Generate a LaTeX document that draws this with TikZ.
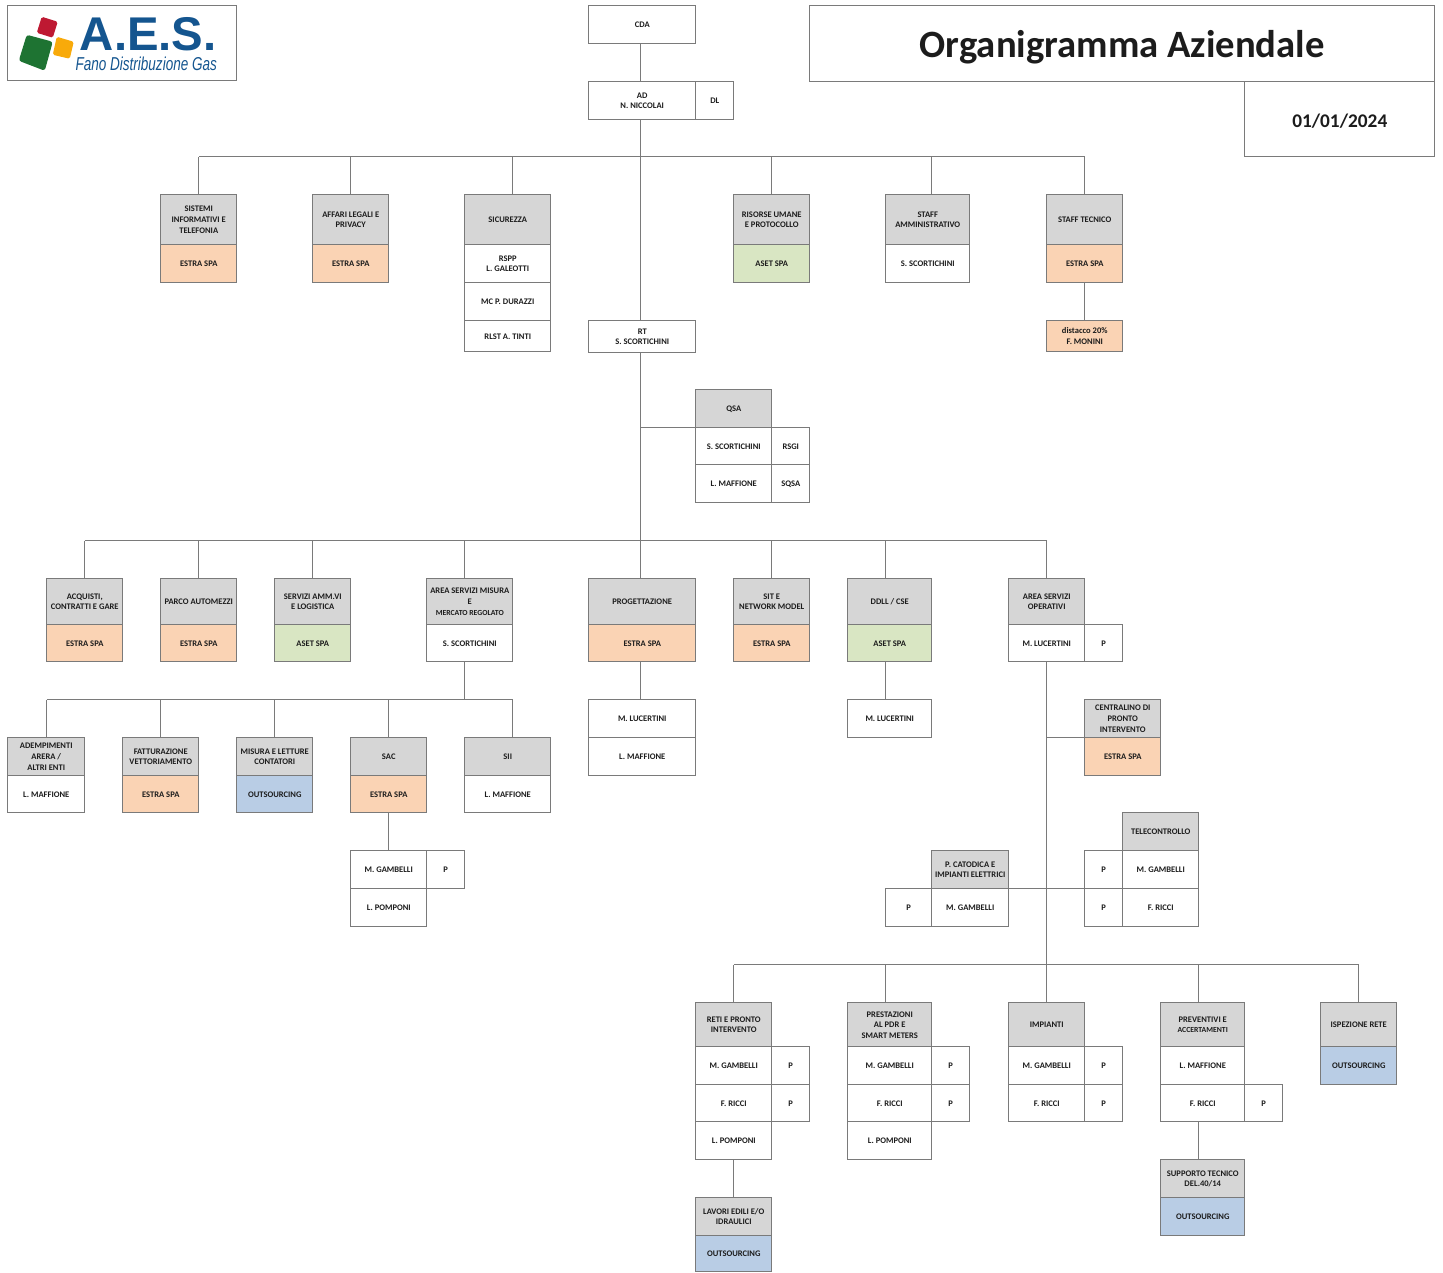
\documentclass[tikz,border=0pt]{standalone}
\usepackage{fontspec}
\setmainfont{Carlito}
\newfontfamily\logofont{Liberation Sans}
\definecolor{hd}{HTML}{D6D6D6}
\definecolor{oc}{HTML}{FAD3B4}
\definecolor{gc}{HTML}{D9E6C3}
\definecolor{bc}{HTML}{B9CDE5}
\definecolor{ln}{HTML}{7A7A7A}
\definecolor{tx}{HTML}{1C1C1C}
\definecolor{aesblue}{HTML}{14558F}
\definecolor{aesred}{HTML}{BE1932}
\definecolor{aesgreen}{HTML}{1E7332}
\definecolor{aesyel}{HTML}{F8AA0A}
\tikzset{
  box/.style={draw=ln,line width=.6pt,inner sep=0pt,outer sep=0pt,align=center,text=tx,
    font=\fontsize{6.4}{7.9}\selectfont\bfseries},
  head/.style={fill=hd},
  orange/.style={fill=oc},
  green/.style={fill=gc},
  blue/.style={fill=bc},
  conn/.style={draw=ln,line width=.6pt},
}
\newcommand{\bx}[7][]{%
  \pgfmathsetmacro\cxv{(#3+#5)/2}%
  \pgfmathsetmacro\cyv{(#4+#6)/2}%
  \pgfmathsetmacro\wv{(#5-#3)*0.75}%
  \pgfmathsetmacro\hv{(#6-#4)*0.75}%
  \node[box,#1,minimum width=\wv pt,minimum height=\hv pt] (#2) at (\cxv,\cyv) {#7};}
% vertical link on axis #1 from point #2 to point #3
\newcommand{\vl}[3]{\draw[conn] (#2 -| #1) -- (#3 -| #1);}
\newcommand{\smf}{\fontsize{5.8}{7.9}\selectfont}
\begin{document}
\begin{tikzpicture}[x=0.75pt,y=-0.75pt]
\useasboundingbox (0.25,0.25) rectangle (1443.25,1272.25);
% logo
\bx{logo}{8}{6}{237}{81}{}
\fill[aesgreen,rounded corners=2pt] (27,35) -- (53,42) -- (45,71) -- (19,61) -- cycle;
\fill[aesyel,rounded corners=1.2pt] (57,37) -- (74,42) -- (70,59) -- (53,55) -- cycle;
\fill[aesred,rounded corners=1.2pt] (42,17) -- (58,22) -- (53,38) -- (37,33) -- cycle;
\node[inner sep=0pt,text=aesblue,font=\logofont\fontsize{35.5}{36}\selectfont\bfseries] (logotitle) at (148.5,34) {\smash{\raisebox{-12.6pt}{A.E.S.}}};
\node[inner sep=0pt,text=aesblue,xscale=0.725,transform shape,font=\logofont\fontsize{14}{14}\selectfont\itshape] (logosub) at (146.5,64.5) {Fano Distribuzione Gas};
% titles
\bx{title}{810}{6}{1435}{82}{\raisebox{-10.45pt}[0pt][0pt]{\fontsize{29}{30}\selectfont Organigramma Aziendale}}
\bx{date}{1245}{82}{1435}{157}{\raisebox{-5.95pt}[0pt][0pt]{\fontsize{14.5}{16}\selectfont 01/01/2024}}
% top
\bx{cda}{589}{6}{696}{44}{CDA}
\bx{ad}{589}{82}{696}{120}{AD\\N. NICCOLAI}
\bx{dl}{696}{82}{734}{120}{DL}
% staff row
\bx[head]{sist}{161}{195}{237}{245}{SISTEMI\\INFORMATIVI E\\TELEFONIA}
\bx[orange]{siste}{161}{245}{237}{283}{ESTRA SPA}
\bx[head]{aff}{313}{195}{389}{245}{AFFARI LEGALI E\\PRIVACY}
\bx[orange]{affe}{313}{245}{389}{283}{ESTRA SPA}
\bx[head]{sic}{465}{195}{551}{245}{SICUREZZA}
\bx{rspp}{465}{245}{551}{283}{RSPP\\L. GALEOTTI}
\bx{mc}{465}{283}{551}{321}{MC P. DURAZZI}
\bx{rlst}{465}{321}{551}{352}{RLST A. TINTI}
\bx[head]{ris}{734}{195}{810}{245}{RISORSE UMANE\\E PROTOCOLLO}
\bx[green]{rise}{734}{245}{810}{283}{ASET SPA}
\bx[head]{samm}{886}{195}{970}{245}{STAFF\\AMMINISTRATIVO}
\bx{sammn}{886}{245}{970}{283}{S. SCORTICHINI}
\bx[head]{stec}{1047}{195}{1123}{245}{STAFF TECNICO}
\bx[orange]{stece}{1047}{245}{1123}{283}{ESTRA SPA}
\bx[orange]{dist}{1047}{321}{1123}{352}{distacco 20\%\\F. MONINI}
\bx{rt}{589}{321}{696}{353}{RT\\S. SCORTICHINI}
% QSA
\bx[head]{qsa}{696}{390}{772}{428}{QSA}
\bx{qsaa}{696}{428}{772}{465}{S. SCORTICHINI}
\bx{rsgi}{772}{428}{810}{465}{RSGI}
\bx{qsab}{696}{465}{772}{503}{L. MAFFIONE}
\bx{sqsa}{772}{465}{810}{503}{SQSA}
% second row
\bx[head]{acq}{47}{579}{123}{625}{ACQUISTI,\\CONTRATTI E GARE}
\bx[orange]{acqe}{47}{625}{123}{662}{ESTRA SPA}
\bx[head]{parco}{161}{579}{237}{625}{PARCO AUTOMEZZI}
\bx[orange]{parcoe}{161}{625}{237}{662}{ESTRA SPA}
\bx[head]{serv}{275}{579}{351}{625}{SERVIZI AMM.VI\\E LOGISTICA}
\bx[green]{serve}{275}{625}{351}{662}{ASET SPA}
\bx[head]{asm}{427}{579}{513}{625}{AREA SERVIZI MISURA\\E\\{\smf MERCATO REGOLATO}}
\bx{asmn}{427}{625}{513}{662}{S. SCORTICHINI}
\bx[head]{prog}{589}{579}{696}{625}{PROGETTAZIONE}
\bx[orange]{proge}{589}{625}{696}{662}{ESTRA SPA}
\bx[head]{sit}{734}{579}{810}{625}{SIT E\\NETWORK MODEL}
\bx[orange]{site}{734}{625}{810}{662}{ESTRA SPA}
\bx[head]{ddll}{848}{579}{932}{625}{DDLL / CSE}
\bx[green]{ddlle}{848}{625}{932}{662}{ASET SPA}
\bx[head]{aso}{1009}{579}{1085}{625}{AREA SERVIZI\\OPERATIVI}
\bx{ason}{1009}{625}{1085}{662}{M. LUCERTINI}
\bx{asop}{1085}{625}{1123}{662}{P}
% third row left
\bx[head]{ade}{8}{738}{85}{776}{ADEMPIMENTI\\ARERA /\\ALTRI ENTI}
\bx{aden}{8}{776}{85}{813}{L. MAFFIONE}
\bx[head]{fatt}{123}{738}{199}{776}{FATTURAZIONE\\VETTORIAMENTO}
\bx[orange]{fatte}{123}{776}{199}{813}{ESTRA SPA}
\bx[head]{mis}{237}{738}{313}{776}{MISURA E LETTURE\\CONTATORI}
\bx[blue]{mise}{237}{776}{313}{813}{OUTSOURCING}
\bx[head]{sac}{351}{738}{427}{776}{SAC}
\bx[orange]{sace}{351}{776}{427}{813}{ESTRA SPA}
\bx[head]{sii}{465}{738}{551}{776}{SII}
\bx{siin}{465}{776}{551}{813}{L. MAFFIONE}
\bx{sacm}{351}{851}{427}{889}{M. GAMBELLI}
\bx{sacp}{427}{851}{465}{889}{P}
\bx{sacl}{351}{889}{427}{927}{L. POMPONI}
% below progettazione and ddll
\bx{progm}{589}{700}{696}{738}{M. LUCERTINI}
\bx{progl}{589}{738}{696}{776}{L. MAFFIONE}
\bx{ddlln}{848}{700}{932}{738}{M. LUCERTINI}
% operative branches
\bx[head]{cent}{1085}{700}{1161}{738}{CENTRALINO DI\\PRONTO\\INTERVENTO}
\bx[orange]{cente}{1085}{738}{1161}{776}{ESTRA SPA}
\bx[head]{tele}{1123}{813}{1199}{851}{TELECONTROLLO}
\bx{telep}{1085}{851}{1123}{889}{P}
\bx{telem}{1123}{851}{1199}{889}{M. GAMBELLI}
\bx{telepb}{1085}{889}{1123}{927}{P}
\bx{telef}{1123}{889}{1199}{927}{F. RICCI}
\bx[head]{cat}{932}{851}{1009}{889}{P. CATODICA E\\IMPIANTI ELETTRICI}
\bx{catp}{886}{889}{932}{927}{P}
\bx{catm}{932}{889}{1009}{927}{M. GAMBELLI}
% bottom row
\bx[head]{reti}{696}{1003}{772}{1047}{RETI E PRONTO\\INTERVENTO}
\bx{retim}{696}{1047}{772}{1085}{M. GAMBELLI}
\bx{retimp}{772}{1047}{810}{1085}{P}
\bx{retif}{696}{1085}{772}{1122}{F. RICCI}
\bx{retifp}{772}{1085}{810}{1122}{P}
\bx{retil}{696}{1122}{772}{1160}{L. POMPONI}
\bx[head]{lav}{696}{1198}{772}{1236}{LAVORI EDILI E/O\\IDRAULICI}
\bx[blue]{lave}{696}{1236}{772}{1272}{OUTSOURCING}
\bx[head]{pre}{848}{1003}{932}{1047}{PRESTAZIONI\\AL PDR E\\SMART METERS}
\bx{prem}{848}{1047}{932}{1085}{M. GAMBELLI}
\bx{premp}{932}{1047}{970}{1085}{P}
\bx{pref}{848}{1085}{932}{1122}{F. RICCI}
\bx{prefp}{932}{1085}{970}{1122}{P}
\bx{prel}{848}{1122}{932}{1160}{L. POMPONI}
\bx[head]{imp}{1009}{1003}{1085}{1047}{IMPIANTI}
\bx{impm}{1009}{1047}{1085}{1085}{M. GAMBELLI}
\bx{impmp}{1085}{1047}{1123}{1085}{P}
\bx{impf}{1009}{1085}{1085}{1122}{F. RICCI}
\bx{impfp}{1085}{1085}{1123}{1122}{P}
\bx[head]{prv}{1161}{1003}{1245}{1047}{PREVENTIVI E\\{\smf ACCERTAMENTI}}
\bx{prvl}{1161}{1047}{1245}{1085}{L. MAFFIONE}
\bx{prvf}{1161}{1085}{1245}{1122}{F. RICCI}
\bx{prvp}{1245}{1085}{1283}{1122}{P}
\bx[head]{sup}{1161}{1160}{1245}{1198}{SUPPORTO TECNICO\\DEL.40/14}
\bx[blue]{supe}{1161}{1198}{1245}{1236}{OUTSOURCING}
\bx[head]{isp}{1321}{1003}{1397}{1047}{ISPEZIONE RETE}
\bx[blue]{ispe}{1321}{1047}{1397}{1085}{OUTSOURCING}
% axes and buses
\coordinate (tk) at (641,0);
\coordinate (ok) at (1047,0);
\coordinate (busA) at (641,157);
\coordinate (busB) at (641,541);
\coordinate (busC) at (465,700);
\coordinate (busD) at (1047,965);
\coordinate (x47) at (47,0);
\coordinate (x513) at (513,0);
\coordinate (x932) at (932,0);
\coordinate (x465) at (465,0);
\coordinate (x886) at (886,0);
\coordinate (x1199) at (1199,0);
\coordinate (x772) at (772,0);
% trunk
\vl{tk}{cda.south}{ad.north}
\vl{tk}{ad.south}{rt.north}
\vl{tk}{rt.south}{prog.north}
% bus A
\draw[conn] (sist.north |- busA) -- (stec.north |- busA);
\draw[conn] (busA -| sist.north) -- (sist.north);
\draw[conn] (busA -| aff.north) -- (aff.north);
\vl{x513}{busA}{sic.north}
\draw[conn] (busA -| ris.north) -- (ris.north);
\vl{x932}{busA}{samm.north}
\draw[conn] (busA -| stec.north) -- (stec.north);
\draw[conn] (stece.south) -- (dist.north);
% QSA
\draw[conn] (tk |- qsa.south) -- (qsa.south west);
% bus B
\draw[conn] (acq.north |- busB) -- (aso.north |- busB);
\draw[conn] (busB -| acq.north) -- (acq.north);
\draw[conn] (busB -| parco.north) -- (parco.north);
\draw[conn] (busB -| serv.north) -- (serv.north);
\vl{x465}{busB}{asm.north}
\vl{x772}{busB}{sit.north}
\vl{x886}{busB}{ddll.north}
\draw[conn] (busB -| aso.north) -- (aso.north);
% bus C
\vl{x465}{asmn.south}{busC}
\draw[conn] (x47 |- busC) -- (x513 |- busC);
\vl{x47}{busC}{ade.north}
\draw[conn] (busC -| fatt.north) -- (fatt.north);
\draw[conn] (busC -| mis.north) -- (mis.north);
\draw[conn] (busC -| sac.north) -- (sac.north);
\vl{x513}{busC}{sii.north}
\draw[conn] (sace.south) -- (sacm.north);
\vl{tk}{proge.south}{progm.north}
\vl{x886}{ddlle.south}{ddlln.north}
% operative trunk
\vl{ok}{ason.south}{busD}
\draw[conn] (ok |- cent.south) -- (cent.south west);
\draw[conn] (cat.south east) -- (telep.south west);
% bus D
\draw[conn] (reti.north |- busD) -- (isp.north |- busD);
\draw[conn] (busD -| reti.north) -- (reti.north);
\vl{x886}{busD}{pre.north}
\draw[conn] (busD -| imp.north) -- (imp.north);
\vl{x1199}{busD}{prv.north}
\draw[conn] (busD -| isp.north) -- (isp.north);
\draw[conn] (retil.south) -- (lav.north);
\vl{x1199}{prvf.south}{sup.north}
\end{tikzpicture}
\end{document}
